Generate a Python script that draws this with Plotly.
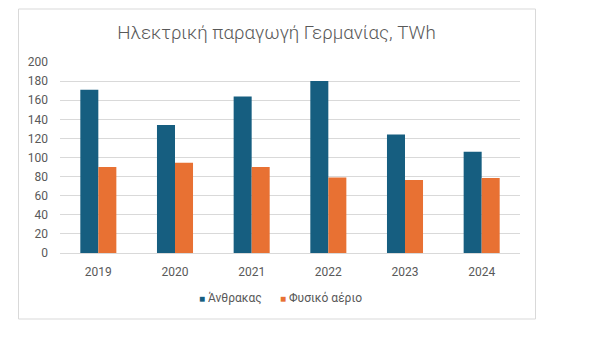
import plotly.graph_objects as go

years = ["2019", "2020", "2021", "2022", "2023", "2024"]
coal = [171, 134, 164, 180, 124, 106]
gas = [90, 94.5, 90, 79, 76.5, 78.5]
series_names = ["Άνθρακας", "Φυσικό αέριο"]
colors = ["#165E80", "#E87133"]
title_text = "Ηλεκτρική παραγωγή Γερμανίας, TWh"
y_ticks = [0, 20, 40, 60, 80, 100, 120, 140, 160, 180, 200]

W, H = 605, 352
L, R, T, B = 60, 85, 62, 99
pw = W - L - R
ph = H - T - B

fig = go.Figure()
fig.add_trace(go.Bar(x=years, y=coal, name=series_names[0], marker_color=colors[0],
                     marker_line_width=0))
fig.add_trace(go.Bar(x=years, y=gas, name=series_names[1], marker_color=colors[1],
                     marker_line_width=0))

def px_x(p):
    return (p - L) / pw

def px_y(p):
    return (H - B - p) / ph

legend_x = [197, 278]
annotations = []
for name, col, lx in zip(series_names, colors, legend_x):
    annotations.append(dict(
        xref="paper", yref="paper", x=px_x(lx), y=px_y(298),
        xanchor="left", yanchor="middle", showarrow=False,
        text=f'<span style="color:{col};font-size:10px">■</span> {name}',
        font=dict(size=12, color="#595959")))

fig.update_layout(
    width=W, height=H,
    margin=dict(l=L, r=R, t=T, b=B),
    paper_bgcolor="white", plot_bgcolor="white",
    font=dict(family="Roboto, Arial, sans-serif", color="#595959", size=12),
    barmode="group", bargap=0.53, bargroupgap=0,
    title=dict(text=title_text, x=276.5 / W, xanchor="center", xref="container",
               y=1 - 32 / H, yanchor="middle", yref="container",
               font=dict(size=18.8, color="#595959", weight=300)),
    showlegend=False,
    annotations=annotations,
    shapes=[dict(type="rect", xref="paper", yref="paper",
                 x0=px_x(18.5), x1=px_x(535.5), y0=px_y(319), y1=px_y(9),
                 line=dict(color="#D9D9D9", width=1), fillcolor="rgba(0,0,0,0)", layer="below")],
)
fig.update_xaxes(showgrid=False, showline=True, linecolor="#D9D9D9", linewidth=1,
                 ticks="", tickfont=dict(size=12, color="#595959"), ticklabelstandoff=8)
fig.update_yaxes(range=[0, 200], tickvals=y_ticks, showgrid=True, gridcolor="#D9D9D9",
                 gridwidth=1, zeroline=False, showline=False, ticks="",
                 tickfont=dict(size=12, color="#595959"), ticklabelstandoff=11)

fig.write_html("out.html")
